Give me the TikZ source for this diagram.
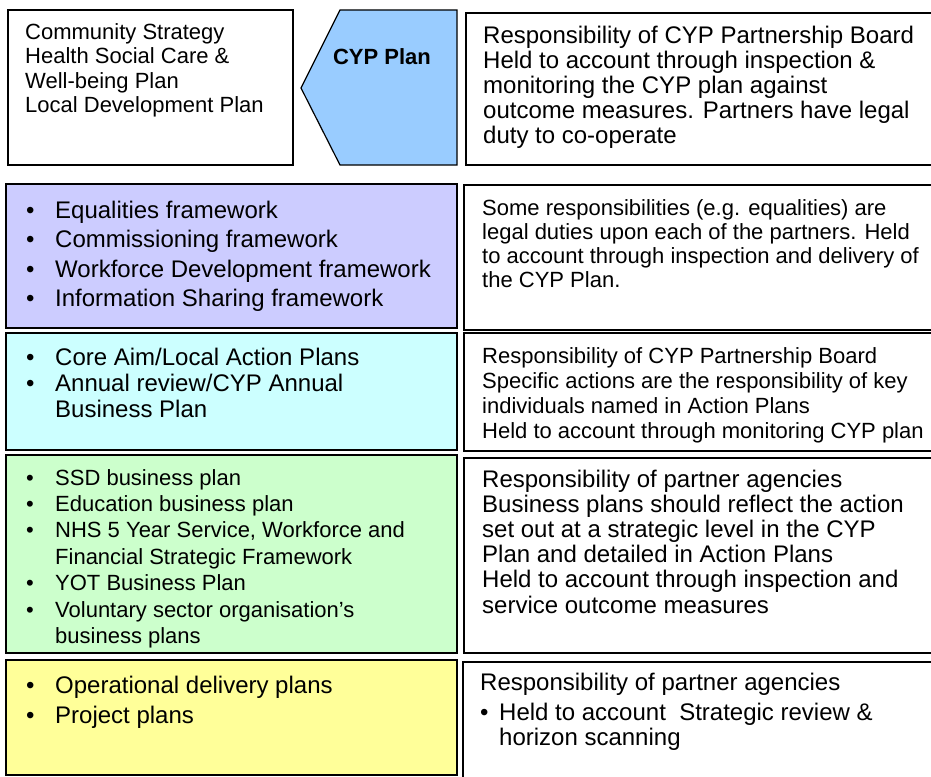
\documentclass[tikz,border=0pt]{standalone}
\usepackage{fontspec}
\setmainfont{Liberation Sans}
\definecolor{cypblue}{HTML}{99CCFF}
\definecolor{lav}{HTML}{CCCCFF}
\definecolor{cyanlt}{HTML}{CCFFFF}
\definecolor{greenlt}{HTML}{CCFFCC}
\definecolor{yellowlt}{HTML}{FFFF99}
\newcommand\bul{\makebox[29pt][l]{\textbullet}}
\newcommand\ind{\hspace*{29pt}}
\newcommand\sbul{\makebox[19pt][l]{\textbullet}}
\newcommand\sind{\hspace*{19pt}}
\begin{document}
\begin{tikzpicture}[x=1pt,y=-1pt,
  panel/.style={draw=black,line width=1.2pt,inner sep=0pt,outer sep=0pt,anchor=north west},
  txt/.style={inner sep=0pt,anchor=base west,align=left,text=black}]
\useasboundingbox (0,0) rectangle (931,776);
% row 1 (text nodes are anchored at the baseline of their last line)
\node[panel,fill=white,minimum width=285pt,minimum height=155pt] (r1l) at (8,10) {};
\draw[draw=black,line width=1.2pt,fill=cypblue] (301,88) -- (340,10) -- (457,10) -- (457,165) -- (340,165) -- cycle;
\node[panel,fill=white,minimum width=470pt,minimum height=152pt] (r1r) at (466,13) {};
\node[txt,font=\fontsize{22}{24.5}\selectfont] (t1l) at (25,112.5) {Community Strategy\\Health Social Care \&\\Well-being Plan\\Local Development Plan};
\node[txt,anchor=base,font=\fontsize{22}{24}\selectfont\bfseries] (cyp) at (382,65) {CYP Plan};
\node[txt,font=\fontsize{24}{25}\selectfont] (t1r) at (483,143) {Responsibility of CYP Partnership Board\\Held to account through inspection \&\\monitoring the CYP plan against\\outcome measures. Partners have legal\\duty to co-operate};
% row 2
\node[panel,fill=lav,minimum width=451pt,minimum height=144pt] (r2l) at (6,184) {};
\node[panel,fill=white,minimum width=472pt,minimum height=145pt] (r2r) at (464,185) {};
\node[txt,font=\fontsize{24}{29.5}\selectfont] (t2l) at (26,306.5) {\bul Equalities framework\\\bul Commissioning framework\\\bul Workforce Development framework\\\bul Information Sharing framework};
\node[txt,font=\fontsize{22}{24}\selectfont] (t2r) at (482,287) {Some responsibilities (e.g. equalities) are\\legal duties upon each of the partners. Held\\to account through inspection and delivery of\\the CYP Plan.};
% row 3
\node[panel,fill=cyanlt,minimum width=451pt,minimum height=117pt] (r3l) at (6,333) {};
\node[panel,fill=white,minimum width=472pt,minimum height=118pt] (r3r) at (464,333) {};
\node[txt,font=\fontsize{24}{26}\selectfont] (t3l) at (26,417) {\bul Core Aim/Local Action Plans\\\bul Annual review/CYP Annual\\\ind Business Plan};
\node[txt,font=\fontsize{22}{25}\selectfont] (t3r) at (482,438) {Responsibility of CYP Partnership Board\\Specific actions are the responsibility of key\\individuals named in Action Plans\\Held to account through monitoring CYP plan};
% row 4
\node[panel,fill=greenlt,minimum width=451pt,minimum height=198pt] (r4l) at (6,455) {};
\node[panel,fill=white,minimum width=472pt,minimum height=195pt] (r4r) at (464,458) {};
\node[txt,font=\fontsize{22}{26.4}\selectfont] (t4l) at (26,643.4) {\bul SSD business plan\\\bul Education business plan\\\bul NHS 5 Year Service, Workforce and\\\ind Financial Strategic Framework\\\bul YOT Business Plan\\\bul Voluntary sector organisation’s\\\ind business plans};
\node[txt,font=\fontsize{24}{25.2}\selectfont] (t4r) at (482,613) {Responsibility of partner agencies\\Business plans should reflect the action\\set out at a strategic level in the CYP\\Plan and detailed in Action Plans\\Held to account through inspection and\\service outcome measures};
% row 5
\node[panel,fill=yellowlt,minimum width=451pt,minimum height=115pt] (r5l) at (6,660) {};
\node[panel,fill=white,minimum width=473pt,minimum height=120pt] (r5r) at (463,662) {};
\node[txt,font=\fontsize{24}{30}\selectfont] (t5l) at (26,723) {\bul Operational delivery plans\\\bul Project plans};
\node[txt,font=\fontsize{24}{25}\selectfont] (t5r) at (480,745) {Responsibility of partner agencies\\[5pt]\sbul Held to account\ \ Strategic review \&\\\sind horizon scanning};
\end{tikzpicture}
\end{document}
